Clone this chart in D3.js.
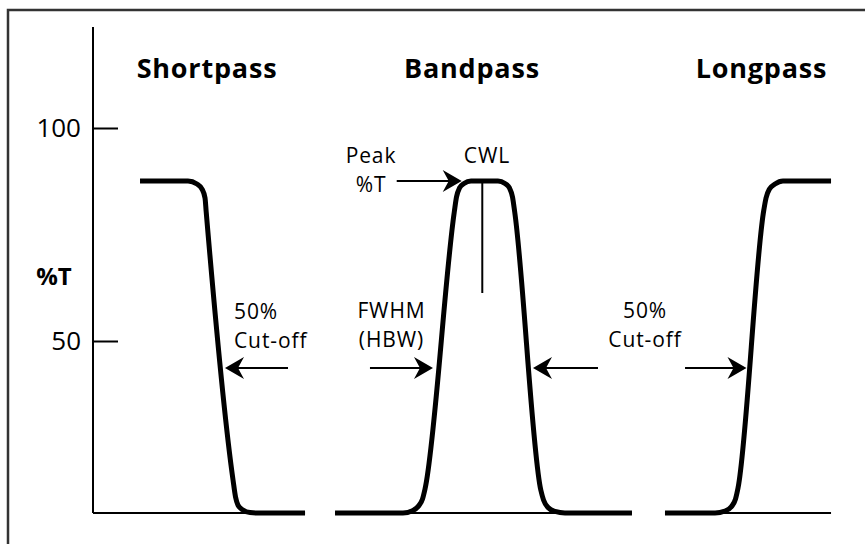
<!DOCTYPE html>
<html>
<head>
<meta charset="utf-8">
<script src="https://cdn.jsdelivr.net/npm/d3@7"></script>
<style>
  body { margin: 0; background: #fff; }
  svg { display: block; }
  text { font-family: "Open Sans", sans-serif; fill: #000; }
  .title { font-weight: 700; font-size: 27px; letter-spacing: 0.8px; }
  .note { font-size: 21px; letter-spacing: 0.9px; }
  .tick text { font-size: 26px; font-family: "Open Sans", sans-serif; fill: #000; }
  .curve { fill: none; stroke: #000; stroke-width: 5; stroke-linejoin: round; }
</style>
</head>
<body>
<div id="chart"></div>
<script>
// filter names (panel titles)
var filterNames = ["Shortpass", "Bandpass", "Longpass"];

// transmission curves, x in arbitrary wavelength units, T in %
var shortpassX = [6.38, 12.89, 14.11, 14.79, 15.20, 15.36, 19.00, 19.34, 19.67, 20.35, 21.30, 22.39, 28.77];
var shortpassT = [87.56, 87.56, 86.85, 85.68, 83.57, 80.28, 17.37, 13.38, 11.50, 10.33, 9.72, 9.62, 9.62];

var bandpassX = [32.84, 42.06, 43.42, 44.23, 44.71, 45.05, 49.02, 49.32, 49.73, 50.34, 51.29,
                 54.95, 55.90, 56.51, 56.92, 57.22, 60.76, 61.13, 61.74, 62.69, 64.04, 73.13];
var bandpassT = [9.62, 9.62, 10.21, 11.38, 12.91, 15.26, 80.28, 83.80, 85.92, 86.97, 87.56,
                 87.56, 86.97, 85.92, 83.80, 80.28, 15.02, 12.68, 10.92, 9.98, 9.62, 9.62];

var longpassX = [77.61, 84.40, 85.75, 86.64, 87.18, 87.52, 91.02, 91.32, 91.79, 92.54, 93.62, 100.14];
var longpassT = [9.62, 9.62, 10.09, 11.15, 12.91, 15.49, 80.75, 83.57, 85.68, 86.85, 87.56, 87.56];

// baseline under each filter: from / to
var baseFromX = [0, 32.84, 77.61];
var baseToX = [28.77, 73.13, 100.14];
var baseT = 9.62;
var axisTopT = 123.7;

// y ticks
var tickValues = [50, 100];

// annotation arrows (tail -> tip)
var arrowTailX = [26.46, 37.58, 68.52, 80.33, 41.21];
var arrowTipX = [17.91, 46.13, 59.70, 88.67, 50.03];
var arrowT = [43.66, 43.66, 43.66, 43.66, 87.56];

// centre wavelength marker
var cwlX = 52.82;
var cwlT = [87.56, 61.27];

// annotation texts
var noteLines = [["50%", "Cut-off"], ["Peak", "%T"], ["CWL"], ["FWHM", "(HBW)"], ["50%", "Cut-off"]];

var width = 865, height = 544;

var x = d3.scaleLinear().domain([0, 100]).range([93, 830]);
var y = d3.scaleLinear().domain([0, 100]).range([554, 128]);

var svg = d3.select("#chart").append("svg")
    .attr("width", width)
    .attr("height", height);

// frame
svg.append("rect")
    .attr("x", 8).attr("y", 10)
    .attr("width", 880).attr("height", 560)
    .attr("fill", "none")
    .attr("stroke", "#333")
    .attr("stroke-width", 2.5);

// y axis line
svg.append("line")
    .attr("x1", x(0)).attr("x2", x(0))
    .attr("y1", y(baseT)).attr("y2", y(axisTopT))
    .attr("stroke", "#000").attr("stroke-width", 2);

var yAxis = d3.axisLeft(y)
    .tickValues(tickValues)
    .tickSizeInner(-25)
    .tickSizeOuter(0)
    .tickPadding(12)
    .tickFormat(d3.format("d"));

var gy = svg.append("g")
    .attr("transform", "translate(" + x(0) + ",0)")
    .call(yAxis);
gy.select(".domain").remove();
gy.selectAll(".tick line").attr("stroke", "#000").attr("stroke-width", 2);

// axis title
svg.append("text")
    .attr("x", 54).attr("y", 285)
    .attr("text-anchor", "middle")
    .style("font-weight", 700)
    .style("font-size", "24px")
    .text("%T");

// baselines
baseFromX.forEach(function(d, i) {
    svg.append("line")
        .attr("x1", x(d)).attr("x2", x(baseToX[i]))
        .attr("y1", y(baseT)).attr("y2", y(baseT))
        .attr("stroke", "#000").attr("stroke-width", 2);
});

// the curves
var line = d3.line()
    .curve(d3.curveMonotoneX)
    .x(function(d) { return x(d[0]); })
    .y(function(d) { return y(d[1]); });

var curves = [
    d3.zip(shortpassX, shortpassT),
    d3.zip(bandpassX, bandpassT),
    d3.zip(longpassX, longpassT)
];

svg.selectAll(".curve")
    .data(curves)
    .enter().append("path")
    .attr("class", "curve")
    .attr("d", line);

// panel titles
var titleX = [15.47, 51.42, 90.70];
svg.selectAll(".title")
    .data(filterNames)
    .enter().append("text")
    .attr("class", "title")
    .attr("x", function(d, i) { return x(titleX[i]); })
    .attr("y", 78)
    .attr("text-anchor", "middle")
    .text(function(d) { return d; });

// CWL marker
svg.append("line")
    .attr("x1", x(cwlX)).attr("x2", x(cwlX))
    .attr("y1", y(cwlT[0])).attr("y2", y(cwlT[1]))
    .attr("stroke", "#000").attr("stroke-width", 2);

// arrows
arrowTailX.forEach(function(d, i) {
    var x0 = x(d), x1 = x(arrowTipX[i]), yy = y(arrowT[i]);
    var dir = x1 > x0 ? 1 : -1;
    svg.append("line")
        .attr("x1", x0).attr("x2", x1 - dir * 10)
        .attr("y1", yy).attr("y2", yy)
        .attr("stroke", "#000").attr("stroke-width", 2);
    var p = d3.path();
    p.moveTo(x1, yy);
    p.lineTo(x1 - dir * 19, yy - 11);
    p.lineTo(x1 - dir * 13, yy);
    p.lineTo(x1 - dir * 19, yy + 11);
    p.closePath();
    svg.append("path").attr("d", p.toString()).attr("fill", "#000");
});

// notes: anchor x (data), first baseline T, anchor
var noteX = [19.13, 37.72, 53.46, 40.50, 74.90];
var noteT = [55.10, 91.71, 91.71, 55.33, 55.33];
var noteAnchor = ["start", "middle", "middle", "middle", "middle"];

noteLines.forEach(function(lines, i) {
    var t = svg.append("text")
        .attr("class", "note")
        .attr("text-anchor", noteAnchor[i]);
    lines.forEach(function(s, j) {
        t.append("tspan")
            .attr("x", x(noteX[i]))
            .attr("y", y(noteT[i]) + j * 28.7)
            .text(s);
    });
});
</script>
</body>
</html>
